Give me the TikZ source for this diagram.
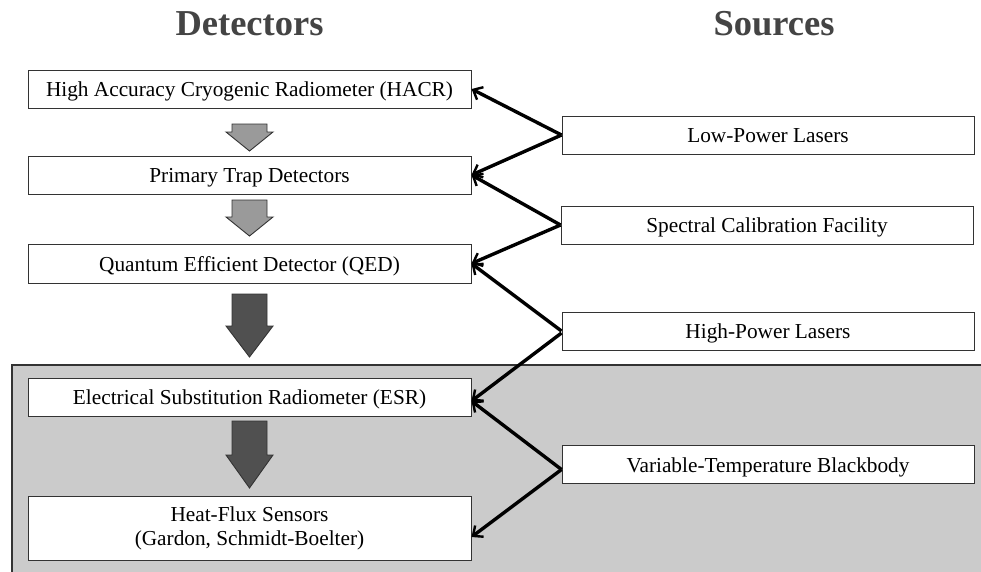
\documentclass[tikz,border=0pt]{standalone}
\usepackage{fontspec}
\setmainfont{Liberation Serif}
\usetikzlibrary{arrows.meta}
\definecolor{regiongray}{HTML}{CBCBCB}
\definecolor{lightarrow}{HTML}{9A9A9A}
\definecolor{darkarrow}{HTML}{505050}
\definecolor{headcol}{HTML}{444444}
\definecolor{edgecol}{HTML}{333333}
\newcommand{\myblockarrow}[4]{%
  \filldraw[fill=#4,draw=edgecol,line width=0.9pt,line join=miter]
    (232,#1) -- (267,#1) -- (267,#2) -- (273,#2) -- (249.5,#3) -- (226,#2) -- (232,#2) -- cycle;}
\begin{document}
\begin{tikzpicture}[x=1pt,y=-1pt,
  detbox/.style={draw=edgecol,fill=white,line width=1pt,minimum width=443pt,inner sep=0pt,
    font=\fontsize{21.3}{24}\selectfont,align=center},
  oneline/.style={text height=18pt,text depth=3pt},
  srcbox/.style={draw=edgecol,fill=white,line width=1pt,minimum width=412pt,minimum height=38pt,inner sep=0pt,
    font=\fontsize{21.3}{24}\selectfont,oneline},
  header/.style={anchor=base,text=headcol,font=\fontsize{36.5}{40}\selectfont\bfseries},
  conn/.style={draw=black,line width=3.4pt,-{Straight Barb[length=8pt,width=14pt,line width=2.4pt]}}]
\useasboundingbox (0,0) rectangle (981,571);
% shaded region
\fill[regiongray] (12,365) rectangle (985,575);
\draw[edgecol,line width=1.2pt] (12,575) -- (12,365) -- (985,365);
% headers
\node[header] (hdet) at (249.5,35) {Detectors};
\node[header] (hsrc) at (774,35) {Sources};
% detector boxes
\node[detbox,oneline,minimum height=38pt] (hacr) at (249.5,89) {High Accuracy Cryogenic Radiometer (HACR)};
\node[detbox,oneline,minimum height=38pt] (trap) at (249.5,175) {Primary Trap Detectors};
\node[detbox,oneline,minimum height=39pt] (qed) at (249.5,263.5) {Quantum Efficient Detector (QED)};
\node[detbox,oneline,minimum height=38pt] (esr) at (249.5,397) {Electrical Substitution Radiometer (ESR)};
\node[detbox,minimum height=64pt] (hf) at (249.5,528) {Heat-Flux Sensors\\(Gardon, Schmidt-Boelter)};
% source boxes
\node[srcbox] (lp) at (768,135) {Low-Power Lasers};
\node[srcbox] (sc) at (767,225) {Spectral Calibration Facility};
\node[srcbox] (hp) at (768,331) {High-Power Lasers};
\node[srcbox] (vt) at (768,464.5) {Variable-Temperature Blackbody};
% block arrows
\myblockarrow{124}{132}{151}{lightarrow}
\myblockarrow{200}{217}{236}{lightarrow}
\myblockarrow{294}{326}{357}{darkarrow}
\myblockarrow{421}{455}{488}{darkarrow}
% connectors
\draw[conn] (lp.west) -- (hacr.east);
\draw[conn] (lp.west) -- (trap.east);
\draw[conn] (sc.west) -- (trap.east);
\draw[conn] (sc.west) -- (qed.east);
\draw[conn] (hp.west) -- (qed.east);
\draw[conn] ([yshift=-2pt]hp.west) -- ([yshift=-4pt]esr.east);
\draw[conn] ([yshift=-5pt]vt.west) -- ([yshift=-4pt]esr.east);
\draw[conn] ([yshift=-5pt]vt.west) -- ([yshift=-9pt]hf.east);
\end{tikzpicture}
\end{document}
